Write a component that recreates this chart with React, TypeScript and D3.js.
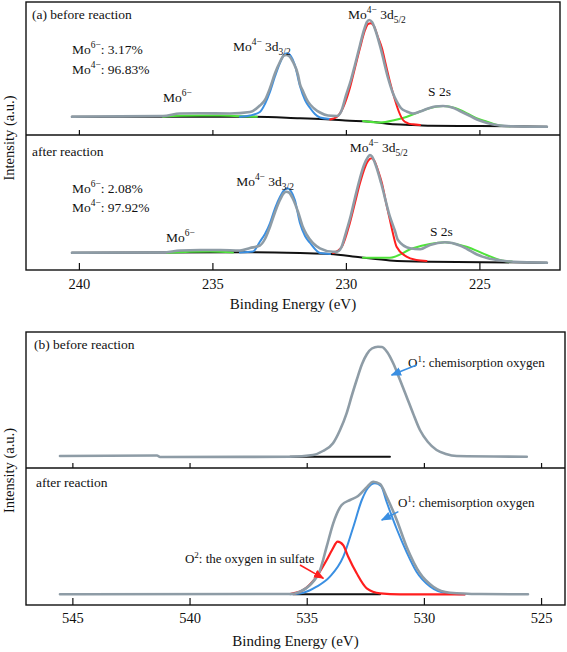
import React from "react";
import * as d3 from "d3";

type Pt = [number, number];

// ---------------- tick labels ----------------
const moTicks = [240, 235, 230, 225];
const oTicks = [545, 540, 535, 530, 525];

// ---------------- panel (a) Mo 3d, before reaction ----------------
const moBeforeEnvelope: Pt[] = [
  [240.28, 18.3], [239.23, 18.5], [236.87, 19.0], [236.23, 21.5], [235.48, 21.7], [234.36, 21.5],
  [233.61, 23.0], [233.24, 29.5], [233.05, 35], [232.86, 47], [232.67, 62], [232.49, 73], [232.34, 79.5],
  [232.26, 80], [232.15, 79], [232.0, 73], [231.81, 60], [231.74, 51], [231.63, 44], [231.44, 33.3],
  [231.21, 26.5], [230.99, 22.5], [230.69, 19.5], [230.35, 19], [230.2, 23.3], [230.01, 40], [229.83, 55],
  [229.68, 70], [229.49, 90], [229.34, 105], [229.23, 113], [229.15, 115], [229.04, 113], [228.89, 103],
  [228.7, 85], [228.44, 57], [228.26, 42], [228.11, 33.3], [227.96, 27], [227.73, 23.3], [227.51, 21.5],
  [227.24, 23.5], [226.94, 26.5], [226.68, 28.5], [226.38, 29], [226.04, 27.5], [225.75, 24], [225.48, 20.5],
  [225.11, 15.5], [224.73, 12], [224.25, 9.5], [223.76, 8.7], [223.12, 8.3], [222.49, 8.3],
];
const moBeforeBackground: Pt[] = [
  [240.28, 18.3], [235.48, 18.3], [233.61, 18.3], [231.74, 16.7], [230.61, 15.5], [229.87, 14.2],
  [229.38, 13.8], [228.74, 12.3], [228.37, 10.9], [227.51, 10], [226.87, 9.3], [225.0, 9], [222.49, 8.3],
];
const moBeforeMo6: Pt[] = [
  [236.87, 18.3], [236.23, 19.2], [235.48, 19.5], [234.73, 19.4], [233.99, 18.8], [233.35, 18.2],
];
const moBefore3d32: Pt[] = [
  [233.99, 18.3], [233.61, 19.5], [233.24, 23], [233.05, 31], [232.86, 43.3], [232.67, 59], [232.49, 72],
  [232.34, 80], [232.22, 81.7], [232.08, 79], [231.93, 70], [231.74, 49], [231.55, 35], [231.36, 27],
  [231.18, 21], [230.99, 17.5], [230.61, 16],
];
const moBefore3d52: Pt[] = [
  [230.61, 15.5], [230.35, 18.3], [230.13, 27], [229.87, 47], [229.68, 67], [229.49, 87], [229.3, 105],
  [229.19, 111], [229.09, 111.7], [228.97, 109], [228.82, 98], [228.67, 87], [228.52, 70], [228.37, 53.3],
  [228.18, 35], [228.03, 23], [227.88, 15], [227.69, 11.7], [227.51, 10.7], [227.24, 10],
];
const moBeforeS2s: Pt[] = [
  [229.38, 14.0], [228.74, 12.5], [228.18, 15], [227.73, 18.3], [227.24, 23.5], [226.87, 27], [226.38, 29],
  [225.93, 27], [225.48, 21.7], [225.15, 17], [224.73, 13.3], [224.25, 9.5], [223.87, 8.7],
];

// ---------------- panel (a) Mo 3d, after reaction ----------------
const moAfterEnvelope: Pt[] = [
  [240.28, 17.3], [236.87, 17.5], [236.23, 19.5], [235.48, 20], [234.73, 20], [233.99, 19.5], [233.61, 22],
  [233.24, 24.5], [233.05, 31], [232.86, 43.3], [232.67, 58], [232.49, 70], [232.34, 77], [232.26, 78.3],
  [232.15, 77.5], [232.0, 71], [231.81, 58], [231.63, 43], [231.48, 35], [230.99, 21.7], [230.5, 18.3],
  [230.35, 18.3], [230.2, 22], [230.01, 38], [229.83, 55], [229.68, 72], [229.49, 92], [229.34, 105],
  [229.19, 113], [229.12, 115], [229.04, 113.5], [228.89, 104], [228.7, 87], [228.37, 53.3], [228.18, 39],
  [228.07, 30], [227.62, 21.7], [227.24, 20.7], [226.87, 25], [226.31, 27.7], [225.75, 24.5], [225.48, 21],
  [225.11, 15.5], [224.73, 12], [224.13, 9.3], [223.76, 8.3], [222.49, 7.3],
];
const moAfterBackground: Pt[] = [
  [240.28, 17.3], [233.61, 17.8], [231.74, 17], [230.61, 16], [229.49, 12.7], [228.37, 9.6], [226.87, 8.3],
  [222.49, 7.3],
];
const moAfterMo6: Pt[] = [
  [236.72, 17.2], [235.86, 18.2], [235.11, 18.5], [234.25, 17.4],
];
const moAfter3d32: Pt[] = [
  [233.99, 17.5], [233.5, 18.5], [233.24, 28.3], [233.05, 36], [232.86, 47], [232.67, 62], [232.49, 73],
  [232.34, 79.5], [232.22, 81.7], [232.08, 79], [231.93, 70], [231.74, 47], [231.55, 34], [231.36, 27],
  [230.99, 17], [230.61, 16],
];
const moAfter3d52: Pt[] = [
  [230.5, 17], [230.17, 23.3], [229.87, 47], [229.68, 67], [229.49, 87], [229.3, 103], [229.19, 109],
  [229.06, 111.7], [228.95, 109], [228.82, 100], [228.67, 87], [228.52, 68], [228.37, 50], [228.26, 37],
  [228.12, 23.3], [227.75, 13.3], [227.38, 10], [227.0, 9],
];
const moAfterS2s: Pt[] = [
  [229.38, 12.2], [228.37, 12.3], [227.51, 21.7], [226.87, 26], [226.31, 27.7], [225.75, 25], [225.5, 23.3],
  [224.75, 15], [224.13, 9.3], [223.8, 8.5],
];

// ---------------- panel (b) O 1s, before reaction ----------------
const oBeforeEnvelope: Pt[] = [
  [545.55, 12], [541.41, 12.5], [541.28, 11], [535.73, 11.3], [534.75, 13], [534.33, 17], [533.9, 24.7],
  [533.6, 38], [533.32, 54.7], [533.09, 73], [532.89, 88], [532.66, 104], [532.45, 114], [532.24, 119.5],
  [531.98, 121.3], [531.81, 121], [531.59, 116], [531.33, 104.7], [531.04, 88], [530.76, 71.3],
  [530.49, 55], [530.19, 38], [529.85, 26], [529.48, 18], [529.08, 14], [528.62, 12], [525.63, 11.3],
];
const oBeforeBackground: Pt[] = [
  [535.73, 11.3], [531.47, 11.3],
];

// ---------------- panel (b) O 1s, after reaction ----------------
const oAfterEnvelope: Pt[] = [
  [545.55, 10.7], [535.73, 11], [535.31, 13.3], [534.88, 20], [534.45, 35], [534.17, 58.3], [533.89, 81.7],
  [533.53, 100], [533.17, 105], [532.83, 109], [532.49, 117], [532.18, 123.3], [531.89, 121],
  [531.61, 108.3], [531.18, 85], [530.76, 58.3], [530.19, 31.7], [529.62, 18.3], [528.91, 12.3],
  [527.63, 11], [525.58, 10.7],
];
const oAfterO1: Pt[] = [
  [535.73, 10.7], [535.17, 12.3], [534.6, 18.3], [534.03, 28.3], [533.46, 48.3], [533.03, 78.3],
  [532.67, 105], [532.41, 117], [532.11, 121.7], [531.85, 119], [531.61, 103], [531.18, 76], [530.76, 53],
  [530.33, 33], [529.76, 18.5], [529.05, 11.8], [528.27, 10.7],
];
const oAfterO2: Pt[] = [
  [535.73, 11], [535.17, 15], [534.6, 28.3], [534.17, 45], [533.94, 55], [533.7, 63.3], [533.47, 60],
  [533.25, 48.3], [532.89, 31.7], [532.46, 16.7], [531.89, 11.7], [531.04, 10.7], [528.27, 10.7],
];
const oAfterBackground: Pt[] = [
  [535.61, 10.7], [531.89, 10.7],
];

// ---------------- texts ----------------
const moBeforeRatios = ["3.17%", "96.83%"];
const moAfterRatios = ["2.08%", "97.92%"];
const yTitle = "Intensity (a.u.)";
const xTitle = "Binding Energy (eV)";

// ---------------- styling ----------------
const FONT = "'Liberation Serif', 'DejaVu Serif', 'Times New Roman', Times, serif";
const GRAY = "#8e9ca6";
const BLUE = "#3a8fe2";
const RED = "#ff1e1e";
const GREEN = "#4fe33a";
const BLACK = "#111";
const TXT = { fontFamily: FONT };

type Scale = d3.ScaleLinear<number, number>;

function Curve({ data, x, y, color, width }: { data: Pt[]; x: Scale; y: Scale; color: string; width: number }) {
  const line = d3
    .line<Pt>()
    .x((d) => x(d[0]))
    .y((d) => y(d[1]))
    .curve(d3.curveMonotoneX);
  return (
    <path d={line(data) ?? ""} fill="none" stroke={color} strokeWidth={width} strokeLinejoin="round" strokeLinecap="round" />
  );
}

function Label({
  x, y, base, sup, mid, sub, size = 13.5, anchor = "start",
}: { x: number; y: number; base: string; sup?: string; mid?: string; sub?: string; size?: number; anchor?: string }) {
  const s = size * 0.7;
  return (
    <text x={x} y={y} fontSize={size} style={TXT} fill="#111" textAnchor={anchor}>
      {base}
      {sup ? (
        <tspan fontSize={s} dy={-size * 0.42}>
          {sup}
        </tspan>
      ) : null}
      {mid ? <tspan dy={sup ? size * 0.42 : 0}>{mid}</tspan> : null}
      {sub ? (
        <tspan fontSize={s} dy={size * 0.28}>
          {sub}
        </tspan>
      ) : null}
    </text>
  );
}

interface PanelGeom {
  left: number;
  right: number;
  top: number;
  mid: number;
  bottom: number;
}

function Frame({ g, x, ticks, tickY, titleY }: { g: PanelGeom; x: Scale; ticks: number[]; tickY: number; titleY: number }) {
  return (
    <g>
      <rect x={g.left} y={g.top} width={g.right - g.left} height={g.bottom - g.top} fill="none" stroke="#111" strokeWidth={1.4} />
      <line x1={g.left} x2={g.right} y1={g.mid} y2={g.mid} stroke="#111" strokeWidth={1.4} />
      {ticks.map((t) => (
        <g key={t}>
          <line x1={x(t)} x2={x(t)} y1={g.mid} y2={g.mid - 5} stroke="#111" strokeWidth={1.2} />
          <line x1={x(t)} x2={x(t)} y1={g.bottom} y2={g.bottom - 7} stroke="#111" strokeWidth={1.2} />
          <text x={x(t)} y={tickY} textAnchor="middle" fontSize={14.5} style={TXT} fill="#111">
            {t}
          </text>
        </g>
      ))}
      <text x={(g.left + g.right) / 2} y={titleY} textAnchor="middle" fontSize={15} style={TXT} fill="#111">
        {xTitle}
      </text>
      <text
        transform={`translate(14, ${(g.top + g.bottom) / 2 + 2}) rotate(-90)`}
        textAnchor="middle"
        fontSize={14.5}
        style={TXT}
        fill="#111"
      >
        {yTitle}
      </text>
    </g>
  );
}

export default function App() {
  const A: PanelGeom = { left: 26, right: 560, top: 2, mid: 135, bottom: 270 };
  const B: PanelGeom = { left: 26, right: 565, top: 332, mid: 468, bottom: 605 };

  const xA = d3.scaleLinear().domain([242, 222]).range([A.left, A.right]);
  const yA1 = d3.scaleLinear().domain([0, A.mid - A.top]).range([A.mid, A.top]);
  const yA2 = d3.scaleLinear().domain([0, A.bottom - A.mid]).range([A.bottom, A.mid]);

  const xB = d3.scaleLinear().domain([547, 524]).range([B.left, B.right]);
  const yB1 = d3.scaleLinear().domain([0, B.mid - B.top]).range([B.mid, B.top]);
  const yB2 = d3.scaleLinear().domain([0, B.bottom - B.mid]).range([B.bottom, B.mid]);

  const moSets = [
    {
      y: yA1,
      bg: moBeforeBackground, mo6: moBeforeMo6, d32: moBefore3d32, d52: moBefore3d52, s2s: moBeforeS2s, env: moBeforeEnvelope,
      ratios: moBeforeRatios, title: "(a) before reaction",
      pos: { r1: 81, r2: 61, mo6: [236.87, 33], d32: [234.25, 84], d52: [229.94, 116], s: [226.94, 39] },
    },
    {
      y: yA2,
      bg: moAfterBackground, mo6: moAfterMo6, d32: moAfter3d32, d52: moAfter3d52, s2s: moAfterS2s, env: moAfterEnvelope,
      ratios: moAfterRatios, title: "after reaction",
      pos: { r1: 77, r2: 58, mo6: [236.76, 28], d32: [234.13, 84], d52: [229.87, 118], s: [226.87, 34] },
    },
  ];

  return (
    <svg width={567} height={652} style={{ position: "absolute", left: 0, top: 0, background: "#fff", fontFamily: FONT }}>
      <defs>
        <marker id="arrBlue" viewBox="0 0 10 10" refX="9" refY="5" markerWidth="7" markerHeight="7" orient="auto">
          <path d="M0,1 L10,5 L0,9 z" fill={BLUE} />
        </marker>
        <marker id="arrRed" viewBox="0 0 10 10" refX="9" refY="5" markerWidth="7" markerHeight="7" orient="auto">
          <path d="M0,1 L10,5 L0,9 z" fill={RED} />
        </marker>
      </defs>

      {/* panel (a) */}
      {moSets.map((s, i) => (
        <g key={i}>
          <Curve data={s.bg} x={xA} y={s.y} color={BLACK} width={2} />
          <Curve data={s.mo6} x={xA} y={s.y} color={GREEN} width={2} />
          <Curve data={s.s2s} x={xA} y={s.y} color={GREEN} width={2} />
          <Curve data={s.d32} x={xA} y={s.y} color={BLUE} width={2} />
          <Curve data={s.d52} x={xA} y={s.y} color={RED} width={2} />
          <Curve data={s.env} x={xA} y={s.y} color={GRAY} width={2.6} />
          <text
            x={A.left + 6}
            y={(i === 0 ? A.top : A.mid) + (i === 0 ? 17 : 21)}
            fontSize={13.5}
            style={TXT}
            fill="#111"
          >
            {s.title}
          </text>
          <Label x={xA(240.28)} y={s.y(s.pos.r1)} base="Mo" sup="6−" mid={`: ${s.ratios[0]}`} />
          <Label x={xA(240.28)} y={s.y(s.pos.r2)} base="Mo" sup="4−" mid={`: ${s.ratios[1]}`} />
          <Label x={xA(s.pos.mo6[0])} y={s.y(s.pos.mo6[1])} base="Mo" sup="6−" />
          <Label x={xA(s.pos.d32[0])} y={s.y(s.pos.d32[1])} base="Mo" sup="4−" mid=" 3d" sub="3/2" />
          <Label x={xA(s.pos.d52[0])} y={s.y(s.pos.d52[1])} base="Mo" sup="4−" mid=" 3d" sub="5/2" />
          <Label x={xA(s.pos.s[0])} y={s.y(s.pos.s[1])} base="S 2s" />
        </g>
      ))}
      <Frame g={A} x={xA} ticks={moTicks} tickY={289} titleY={309} />

      {/* panel (b) */}
      <Curve data={oBeforeBackground} x={xB} y={yB1} color={BLACK} width={2} />
      <Curve data={oBeforeEnvelope} x={xB} y={yB1} color={GRAY} width={2.6} />
      <text x={B.left + 8} y={B.top + 17} fontSize={13.5} style={TXT} fill="#111">
        (b) before reaction
      </text>
      <Label x={xB(530.7)} y={yB1(101)} base="O" sup="1" mid=": chemisorption oxygen" size={13} />
      <line x1={xB(530.33)} y1={yB1(103)} x2={xB(531.4)} y2={yB1(93)} stroke={BLUE} strokeWidth={1.5} markerEnd="url(#arrBlue)" />

      <Curve data={oAfterBackground} x={xB} y={yB2} color={BLACK} width={2} />
      <Curve data={oAfterO1} x={xB} y={yB2} color={BLUE} width={2} />
      <Curve data={oAfterO2} x={xB} y={yB2} color={RED} width={2.2} />
      <Curve data={oAfterEnvelope} x={xB} y={yB2} color={GRAY} width={2.6} />
      <text x={B.left + 10} y={B.mid + 19} fontSize={13.5} style={TXT} fill="#111">
        after reaction
      </text>
      <Label x={xB(531.13)} y={yB2(98)} base="O" sup="1" mid=": chemisorption oxygen" size={13} />
      <line x1={xB(531.11)} y1={yB2(93.3)} x2={xB(531.82)} y2={yB2(85)} stroke={BLUE} strokeWidth={1.5} markerEnd="url(#arrBlue)" />
      <Label x={xB(540.22)} y={yB2(42)} base="O" sup="2" mid=": the oxygen in sulfate" size={13} />
      <line x1={xB(535.31)} y1={yB2(40)} x2={xB(534.31)} y2={yB2(26.7)} stroke={RED} strokeWidth={1.5} markerEnd="url(#arrRed)" />

      <Frame g={B} x={xB} ticks={oTicks} tickY={623} titleY={646} />
    </svg>
  );
}
